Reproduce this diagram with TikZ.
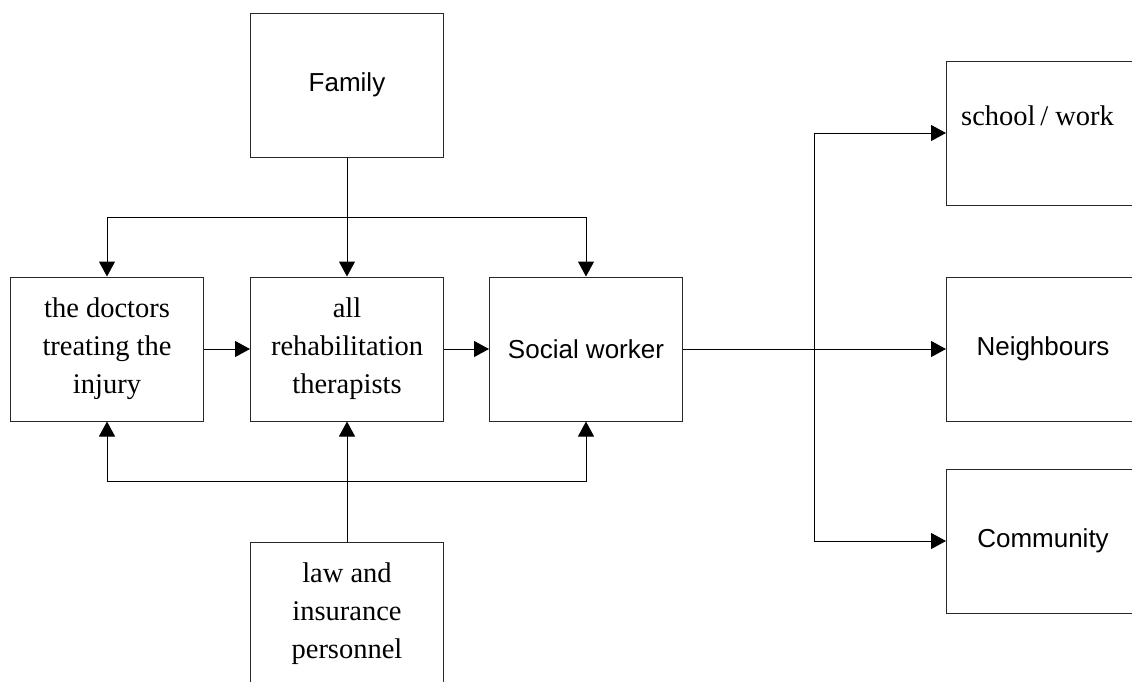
\documentclass[tikz,border=0pt]{standalone}
\usepackage{fontspec}
\setmainfont{Liberation Serif}
\setsansfont{Liberation Sans}
\usetikzlibrary{positioning,arrows.meta}
\definecolor{boxline}{RGB}{40,40,40}
\tikzset{%
  box/.style={draw=boxline, line width=1pt, rectangle, minimum width=193pt,
    minimum height=144pt, inner sep=0pt},% plain box
  sanslbl/.style={box, font=\fontsize{26}{31}\sffamily\selectfont},% sans label
  seriflbl/.style={box, align=center, font=\fontsize{28.5}{38}\selectfont},% serif label
  link/.style={line width=1pt, -{Triangle[length=15pt,width=16pt]}}% connector
}
\begin{document}
\begin{tikzpicture}[x=1pt, y=-1pt]
\useasboundingbox (0,0) rectangle (1132,681);

\node[sanslbl] (fam) at (347, 85) {Family};
\node[seriflbl] (doc) at (107, 349) {the doctors\\treating the\\injury};
\node[seriflbl] (reh) at (347, 349) {all\\rehabilitation\\therapists};
\node[sanslbl] (soc) at (586, 349) {Social worker};
\node[seriflbl] (law) at (347, 614) {law and\\insurance\\personnel};

\node[box] (school) at (1043, 133) {};
\node[anchor=base west, inner sep=0pt, font=\fontsize{28.5}{38}\selectfont] (schooltxt) at (961, 125) {school\,/ work};
\node[sanslbl] (nbr) at (1043, 349) {Neighbours};
\node[sanslbl] (com) at (1043, 541) {Community};

\coordinate (topbus) at (347, 217);
\coordinate (botbus) at (347, 481);
\coordinate (fork) at (814, 349);

\draw[link] (fam) -- (reh);
\draw[link] (topbus) -| (doc.north);
\draw[link] (topbus) -| (soc.north);

\draw[link] (law) -- (reh);
\draw[link] (botbus) -| (doc.south);
\draw[link] (botbus) -| (soc.south);

\draw[link] (doc) -- (reh);
\draw[link] (reh) -- (soc);

\draw[link] (soc) -- (nbr);
\draw[link] (fork) |- (school.west);
\draw[link] (fork) |- (com.west);
\end{tikzpicture}
\end{document}
